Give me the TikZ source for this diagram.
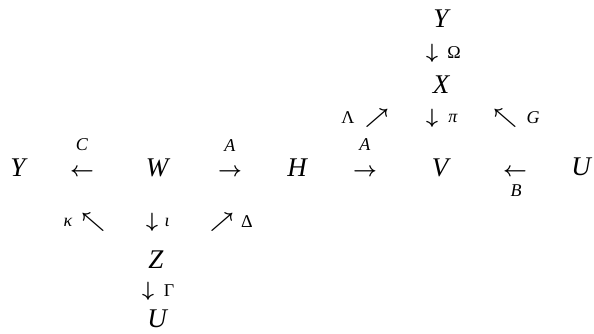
\documentclass[tikz,border=0pt]{standalone}
\usepackage{fontspec}
\setmainfont{Liberation Serif}
\begin{document}
\begin{tikzpicture}[
    obj/.style={font=\fontsize{27}{30}\selectfont\itshape, anchor=center, inner sep=0pt},
    arr/.style={font=\fontsize{21}{25}\selectfont\mathversion{bold}, anchor=center, inner sep=0pt},
    lbl/.style={font=\fontsize{18}{20}\selectfont, anchor=center, inner sep=0pt},
    x=1pt, y=-1pt
  ]
  \useasboundingbox (0,0) rectangle (594,334);
  % objects
  \foreach \n/\x/\y/\t in {Ytop/441/19/Y, X/441/85/X, Yleft/18/168/Y, W/157/168/W,
                           H/297/168/H, V/440/168/V, Uright/581/167/U, Z/156/260/Z,
                           Ubot/157/319/U} {
    \node[obj] (\n) at (\x,\y) {\t};
  }
  % arrows
  \foreach \n/\x/\y/\t in {aOmega/432/53/\downarrow, aLambda/377/118/\nearrow,
                           api/432/118/\downarrow, aG/505/118/\nwarrow,
                           aC/82/172/\leftarrow, aAw/230/172/\rightarrow,
                           aAh/365/172/\rightarrow, aB/515/172/\leftarrow,
                           akappa/93/222/\nwarrow, aiota/152/222/\downarrow,
                           aDelta/222/222/\nearrow, aGamma/148/291/\downarrow} {
    \node[arr] (\n) at (\x,\y) {$\t$};
  }
  % labels
  \foreach \n/\x/\y/\t in {lOmega/454/53/Ω, lLambda/348/118/Λ,
                           lpi/453/118/\textit{π}, lG/533/118/\textit{G},
                           lC/82/145/\textit{C}, lAw/230/146/\textit{A},
                           lAh/365/145/\textit{A}, lB/516/191/\textit{B},
                           lkappa/68/222/\textit{κ}, liota/167/222/\textit{ι},
                           lDelta/247/222/Δ, lGamma/169/291/Γ} {
    \node[lbl] (\n) at (\x,\y) {\t};
  }
\end{tikzpicture}
\end{document}
